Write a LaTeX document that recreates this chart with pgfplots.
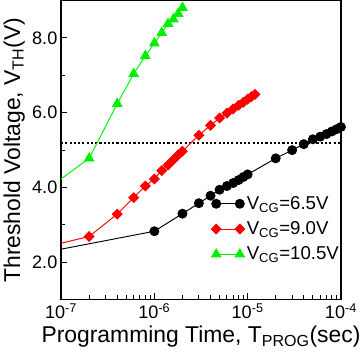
\documentclass[border=0pt]{standalone}
\usepackage{fontspec}
\setmainfont{Liberation Sans}
\usepackage{pgfplots}
\pgfplotsset{compat=1.18}
\definecolor{lime}{RGB}{0,240,0}
\begin{document}
\begin{tikzpicture}
\begin{axis}[
  scale only axis,
  width=262bp, height=280bp,
  xmode=log,
  xmin=1e-7, xmax=1e-4,
  ymin=1, ymax=9,
  xtick={1e-7,1e-6,1e-5,1e-4},
  xticklabels={10\textsuperscript{-7},10\textsuperscript{-6},10\textsuperscript{-5},10\textsuperscript{-4}},
  ytick={2,4,6,8},
  minor ytick={3,5,7},
  yticklabel style={/pgf/number format/.cd,fixed,fixed zerofill,precision=1,assume math mode=true},
  tick align=inside,
  xtick pos=bottom, ytick pos=left,
  major tick length=6bp, minor tick length=4bp,
  tick style={line width=0.9pt,black},
  axis line style={line width=1.1pt},
  tick label style={font=\fontsize{17}{17}\selectfont},
  label style={font=\fontsize{21.5}{22}\selectfont},
  xlabel={Programming Time, T\textsubscript{PROG}(sec)},
  ylabel={Threshold Voltage, V\textsubscript{TH}(V)},
  legend cell align=left,
  legend style={draw=none, fill=none, font=\fontsize{17.5}{18}\selectfont,
    at={(0.525,0.36)}, anchor=north west, row sep=6bp},
  legend image code/.code={\draw[mark repeat=1,mark phase=1,#1] plot coordinates {(0cm,0cm) (0.78cm,0cm)};},
]
\addplot[black, line width=2pt, dash pattern=on 2pt off 2pt, forget plot] coordinates {(1e-7,5.18) (1e-4,5.18)};
% leading segments (start outside the axis)
\addplot[black, line width=0.9pt, forget plot] coordinates {(1e-8,1.87) (1e-6,2.83)};
\addplot[red, line width=0.9pt, forget plot] coordinates {(1e-8,1.91) (2e-7,2.69)};
\addplot[lime, line width=0.9pt, forget plot] coordinates {(1e-8,2.40) (2e-7,4.78)};
\addplot[black, line width=0.9pt, mark=*, mark size=4.2pt] coordinates {
(1e-6,2.83) (2e-6,3.30) (3e-6,3.58) (4e-6,3.78) (5e-6,3.94) (6e-6,4.04) (7e-6,4.12) (8e-6,4.20) (9e-6,4.28) (1e-5,4.35) (2e-5,4.78) (3e-5,5.00) (4e-5,5.16) (5e-5,5.29) (6e-5,5.36) (7e-5,5.43) (8e-5,5.50) (9e-5,5.56) (1e-4,5.62)};
\addlegendentry{V\textsubscript{CG}=6.5V}
\addplot[red, line width=0.9pt, mark=square*, mark size=3.2pt, mark options={rotate=45}] coordinates {
(2e-7,2.69) (4e-7,3.29) (6e-7,3.73) (8e-7,4.04) (1e-6,4.23) (1.2e-6,4.45) (1.4e-6,4.60) (1.6e-6,4.74) (1.8e-6,4.87) (2e-6,4.97) (3e-6,5.40) (4e-6,5.66) (5e-6,5.86) (6e-6,5.99) (7e-6,6.10) (8e-6,6.20) (9e-6,6.28) (1e-5,6.36) (1.1e-5,6.43) (1.2e-5,6.49)};
\addlegendentry{V\textsubscript{CG}=9.0V}
\addplot[lime, line width=0.9pt, mark=triangle*, mark size=5pt] coordinates {
(2e-7,4.78) (4e-7,6.24) (6e-7,7.04) (8e-7,7.52) (1e-6,7.86) (1.2e-6,8.14) (1.4e-6,8.38) (1.6e-6,8.50) (1.8e-6,8.65) (2e-6,8.81)};
\addlegendentry{V\textsubscript{CG}=10.5V}
\end{axis}
\end{tikzpicture}
\end{document}
